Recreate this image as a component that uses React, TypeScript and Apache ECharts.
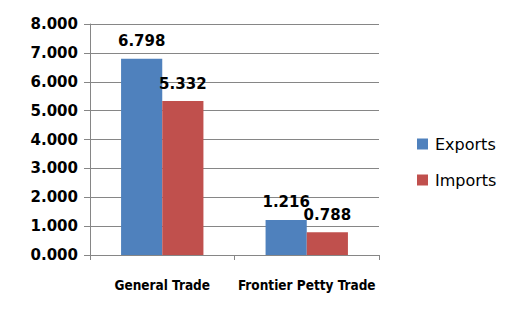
import React, { useEffect, useRef } from "react";
import * as echarts from "echarts";

const categories = ["General Trade", "Frontier Petty Trade"];
const exportsData = [6.798, 1.216];
const importsData = [5.332, 0.788];
const seriesNames = ["Exports", "Imports"];

export default function App() {
  const ref = useRef<HTMLDivElement>(null);
  useEffect(() => {
    const chart = echarts.init(ref.current!, null, { renderer: "svg" });
    const labelStyle = {
      show: true,
      position: "top" as const,
      distance: 10,
      fontFamily: "DejaVu Sans",
      fontWeight: "bold" as const,
      fontSize: 15,
      color: "#000",
      formatter: (p: any) => Number(p.value).toFixed(3),
    };
    chart.setOption({
      animation: false,
      backgroundColor: "#fff",
      grid: { left: 90, right: 145, top: 24, bottom: 62 },
      legend: {
        orient: "vertical",
        left: 412,
        top: 131,
        itemWidth: 11,
        itemHeight: 11,
        itemGap: 20,
        icon: "rect",
        textStyle: { fontFamily: "DejaVu Sans", fontSize: 16, color: "#000", padding: [0, 0, 0, 2] },
        data: seriesNames,
      },
      xAxis: {
        type: "category",
        data: categories,
        axisLine: { lineStyle: { color: "#868686" } },
        axisTick: { show: true, length: 5, lineStyle: { color: "#868686" } },
        axisLabel: {
          interval: 0,
          hideOverlap: false,
          margin: 23,
          fontFamily: "DejaVu Sans Condensed, DejaVu Sans",
          fontWeight: "bold",
          fontSize: 13.5,
          color: "#000",
        },
      },
      yAxis: {
        type: "value",
        min: 0,
        max: 8,
        interval: 1,
        axisLine: { show: true, lineStyle: { color: "#868686" } },
        axisTick: { show: true, length: 6, lineStyle: { color: "#868686" } },
        splitLine: { lineStyle: { color: "#868686" } },
        axisLabel: {
          margin: 12,
          fontFamily: "DejaVu Sans",
          fontWeight: "bold",
          fontSize: 15,
          color: "#000",
          formatter: (v: number) => v.toFixed(3),
        },
      },
      series: [
        {
          name: seriesNames[0],
          type: "bar",
          data: exportsData,
          barGap: "0%",
          barCategoryGap: "43%",
          itemStyle: { color: "#4F81BD" },
          label: labelStyle,
        },
        {
          name: seriesNames[1],
          type: "bar",
          data: importsData,
          barGap: "0%",
          barCategoryGap: "43%",
          itemStyle: { color: "#C0504D" },
          label: labelStyle,
        },
      ],
    });
    return () => chart.dispose();
  }, []);
  return (
    <div
      ref={ref}
      style={{ position: "fixed", left: 0, top: 0, width: 524, height: 317 }}
    />
  );
}
